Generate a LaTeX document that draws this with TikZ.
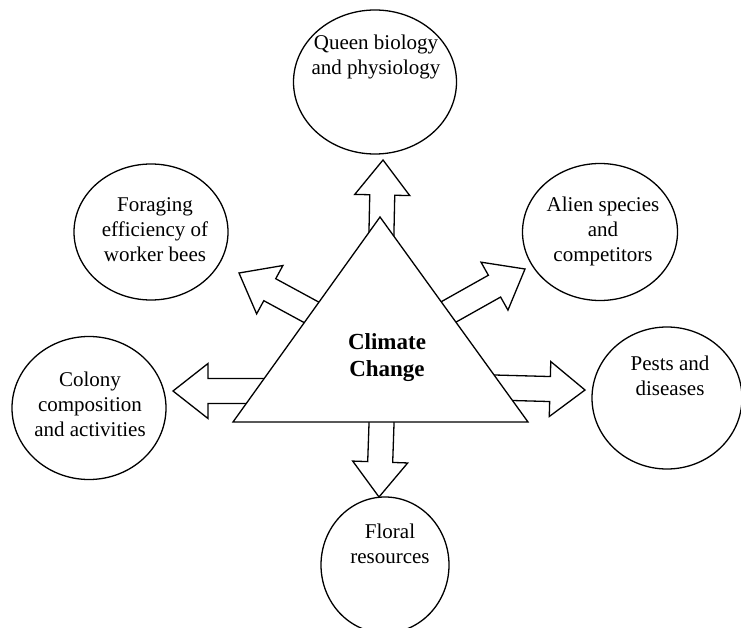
\documentclass[tikz,border=0pt]{standalone}
\usepackage{fontspec}
\setmainfont{Liberation Serif}
\usetikzlibrary{calc,shapes.geometric}
\tikzset{
  bubble/.style={draw, ellipse, line width=1.3pt, inner sep=0pt},
  lbl/.style={align=center, inner sep=0pt, font=\fontsize{21}{25}\selectfont},
  ctitle/.style={align=center, inner sep=0pt, font=\fontsize{23}{27}\selectfont\bfseries},
  blockarrow/.style={draw, fill=white, line width=1.3pt, line join=miter},
  tri/.style={draw, fill=white, line width=1.3pt, line join=miter}
}
% name, tail, tip
\newcommand{\myblockarrow}[3]{%
  \coordinate (#1h) at ($(#3)!35pt!(#2)$);
  \draw[blockarrow] ($(#2)!12.5pt!90:(#3)$) -- ($(#1h)!12.5pt!-90:(#2)$)
     -- ($(#1h)!27.5pt!-90:(#2)$) -- (#3) -- ($(#1h)!27.5pt!90:(#2)$)
     -- ($(#1h)!12.5pt!90:(#2)$) -- ($(#2)!12.5pt!-90:(#3)$) -- cycle;}
\begin{document}
\begin{tikzpicture}[x=1pt,y=-1pt]
\useasboundingbox (0,0) rectangle (741,628);
\clip (0,0) rectangle (741,628);

% ellipses
\node[bubble, minimum width=163pt, minimum height=144pt] (queen) at (375,82) {};
\node[bubble, minimum width=154pt, minimum height=136pt] (forage) at (151,232) {};
\node[bubble, minimum width=155pt, minimum height=137pt] (alien) at (600,232) {};
\node[bubble, minimum width=154pt, minimum height=143pt] (colony) at (89,408) {};
\node[bubble, minimum width=150pt, minimum height=142pt] (pests) at (667,398) {};
\node[bubble, minimum width=128pt, minimum height=136pt] (floral) at (385,565) {};

% arrow coordinates
\coordinate (tUp) at (380,300);   \coordinate (pUp) at (383,160);
\coordinate (tUL) at (344,330);   \coordinate (pUL) at (239,273);
\coordinate (tUR) at (420,328);   \coordinate (pUR) at (525,269);
\coordinate (tL)  at (330,391);   \coordinate (pL)  at (173,391);
\coordinate (tR)  at (440,386);   \coordinate (pR)  at (585,390);
\coordinate (tD)  at (383,380);   \coordinate (pD)  at (379,497);

\myblockarrow{aUp}{tUp}{pUp}
\myblockarrow{aUL}{tUL}{pUL}
\myblockarrow{aUR}{tUR}{pUR}
\myblockarrow{aL}{tL}{pL}
\myblockarrow{aR}{tR}{pR}
\myblockarrow{aD}{tD}{pD}

% triangle
\coordinate (apex) at (380,217);
\coordinate (bl) at (233,422);
\coordinate (br) at (528,422);
\draw[tri] (apex) -- (br) -- (bl) -- cycle;
\node[ctitle] (cc) at (387,358) {Climate\\Change};

% labels
\node[lbl] (queenT) at (376,57) {Queen biology\\and physiology};
\node[lbl] (forageT) at (155,230) {Foraging\\efficiency of\\worker bees};
\node[lbl] (alienT) at (603,231) {Alien species\\and\\competitors};
\node[lbl] (colonyT) at (90,404) {Colony\\composition\\and activities};
\node[lbl] (pestsT) at (670,376) {Pests and\\diseases};
\node[lbl] (floralT) at (390,544) {Floral\\resources};
\end{tikzpicture}
\end{document}
